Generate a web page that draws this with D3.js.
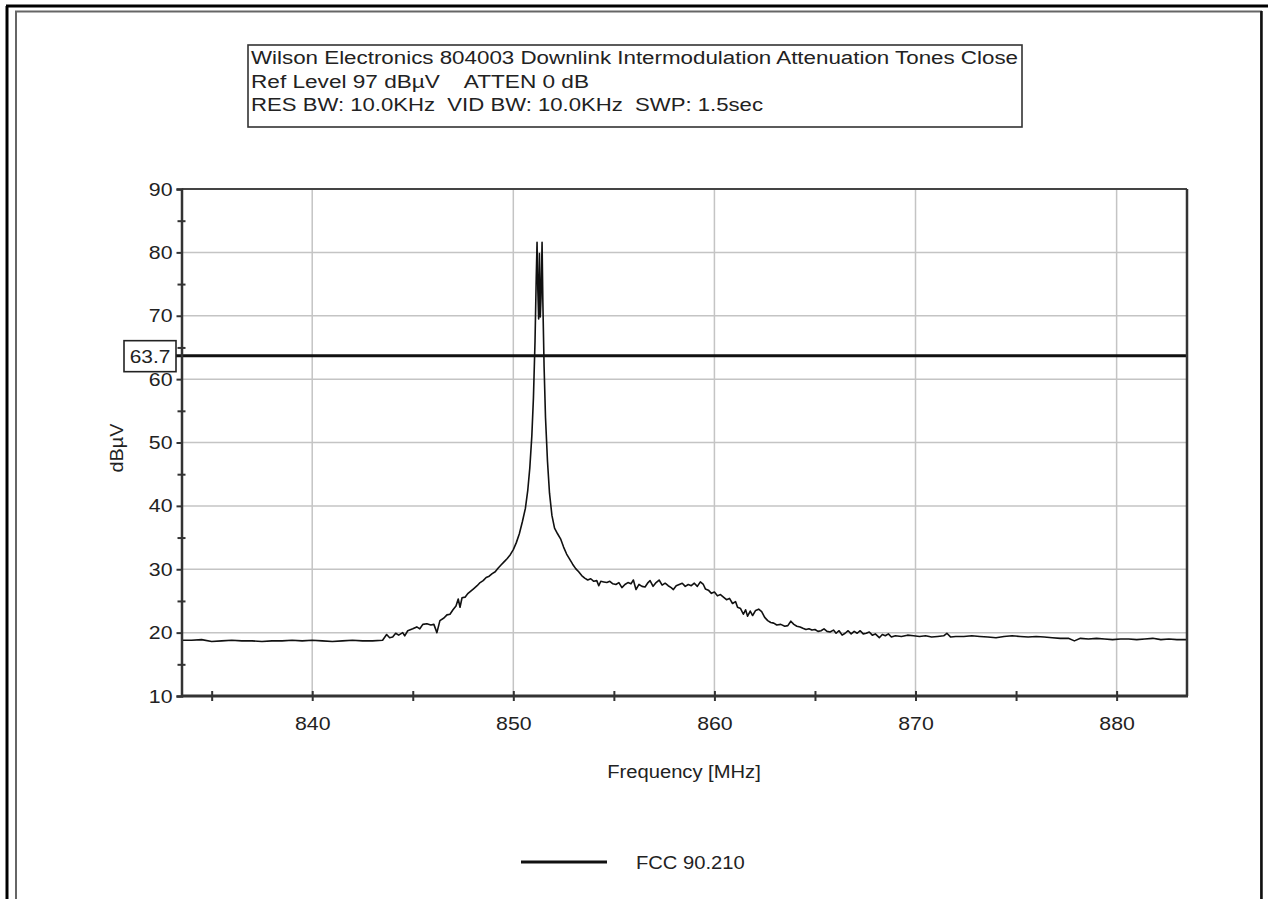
<!DOCTYPE html>
<html>
<head>
<meta charset="utf-8">
<script src="https://cdn.jsdelivr.net/npm/d3@7"></script>
<style>
  body { margin: 0; background: #fff; }
  svg { display: block; }
  text { font-family: "Liberation Sans", Arial, sans-serif; fill: #222; }
</style>
</head>
<body>
<svg width="1268" height="899"></svg>
<script>
// header text of the analyzer plot
const titleLines = [
  "Wilson Electronics 804003 Downlink Intermodulation Attenuation Tones Close",
  "Ref Level 97 dB\u00b5V    ATTEN 0 dB",
  "RES BW: 10.0KHz  VID BW: 10.0KHz  SWP: 1.5sec"
];
const xTicks = [835, 840, 845, 850, 855, 860, 865, 870, 875, 880];
const xLabels = [840, 850, 860, 870, 880];
const yLabels = [10, 20, 30, 40, 50, 60, 70, 80, 90];
const yMinor = [15, 25, 35, 45, 55, 65, 75, 85];
const limitValue = 63.7;
const legendName = "FCC 90.210";

// trace (MHz / dBuV)
const freqMHz = [
  833.5, 834.0, 834.5, 835.0, 835.5, 836.0, 836.5, 837.0, 837.5, 838.0,
  838.5, 839.0, 839.5, 840.0, 840.5, 841.0, 841.5, 842.0, 842.5, 843.0,
  843.5, 843.7, 843.85, 844.0, 844.15, 844.3, 844.5, 844.6, 844.75, 845.0,
  845.2, 845.35, 845.5, 845.7, 845.9, 846.05, 846.2, 846.35, 846.55, 846.7,
  846.85, 847.0, 847.15, 847.26, 847.35, 847.45, 847.6, 847.75, 847.9, 848.05,
  848.2, 848.35, 848.5, 848.65, 848.8, 848.95, 849.1, 849.25, 849.4, 849.55,
  849.7, 849.85, 850.0, 850.15, 850.3, 850.45, 850.6, 850.72, 850.82, 850.92,
  851.0, 851.08, 851.14, 851.18, 851.22, 851.26, 851.3, 851.34, 851.38, 851.43,
  851.47, 851.53, 851.6, 851.7, 851.8, 851.92, 852.05, 852.2, 852.35, 852.5,
  852.65, 852.8, 852.95, 853.1, 853.25, 853.4, 853.55, 853.7, 853.85, 854.0,
  854.15, 854.25, 854.35, 854.5, 854.65, 854.8, 854.95, 855.1, 855.25, 855.4,
  855.55, 855.7, 855.85, 855.97, 856.1, 856.25, 856.4, 856.55, 856.7, 856.8,
  856.95, 857.1, 857.25, 857.4, 857.55, 857.7, 857.85, 857.96, 858.1, 858.25,
  858.4, 858.55, 858.7, 858.85, 859.0, 859.15, 859.3, 859.45, 859.55, 859.7,
  859.85, 860.0, 860.15, 860.3, 860.45, 860.6, 860.75, 860.9, 861.05, 861.15,
  861.3, 861.44, 861.55, 861.65, 861.78, 861.9, 862.05, 862.2, 862.35, 862.5,
  862.65, 862.8, 862.95, 863.1, 863.3, 863.5, 863.65, 863.8, 863.95, 864.1,
  864.26, 864.4, 864.55, 864.7, 864.85, 865.0, 865.15, 865.3, 865.45, 865.6,
  865.75, 865.92, 866.05, 866.2, 866.35, 866.5, 866.65, 866.8, 866.95, 867.1,
  867.25, 867.4, 867.55, 867.7, 867.85, 868.0, 868.2, 868.35, 868.5, 868.65,
  868.8, 869.0, 869.3, 869.6, 869.9, 870.2, 870.5, 870.8, 871.1, 871.4,
  871.56, 871.75, 872.0, 872.4, 872.8, 873.2, 873.6, 874.0, 874.4, 874.8,
  875.2, 875.6, 876.0, 876.4, 876.8, 877.2, 877.6, 877.9, 878.2, 878.6,
  879.0, 879.4, 879.8, 880.2, 880.6, 881.0, 881.4, 881.8, 882.2, 882.6,
  883.0, 883.5
];
const levelDb = [
  18.8, 18.8, 18.9, 18.6, 18.7, 18.8, 18.7, 18.7, 18.6, 18.7,
  18.7, 18.8, 18.7, 18.8, 18.7, 18.6, 18.7, 18.8, 18.7, 18.7,
  18.8, 19.7, 19.2, 19.3, 19.9, 19.6, 20.0, 19.5, 20.3, 20.6,
  20.9, 20.6, 21.3, 21.4, 21.2, 21.3, 20.0, 21.9, 22.3, 22.8,
  22.9, 23.6, 24.2, 25.3, 24.0, 25.5, 25.6, 26.2, 26.6, 27.0,
  27.4, 27.9, 28.2, 28.7, 28.9, 29.3, 29.6, 30.2, 30.7, 31.2,
  31.7, 32.3, 33.1, 34.2, 35.6, 37.5, 39.6, 42.5, 46.0, 51.0,
  57.0, 66.0, 76.0, 81.6, 74.0, 69.5, 79.8, 69.8, 73.0, 81.6,
  72.0, 62.0, 54.0, 47.0, 42.0, 38.5, 36.5, 35.6, 34.8, 33.5,
  32.4, 31.6, 30.8, 30.1, 29.6, 29.0, 28.6, 28.3, 28.5, 28.1,
  28.2, 27.4, 28.1, 28.0, 27.9, 28.1, 27.7, 27.6, 27.9, 27.1,
  27.6, 27.9, 27.7, 28.3, 26.8, 27.6, 27.3, 27.2, 27.9, 28.2,
  27.3, 27.9, 28.3, 27.5, 27.8, 27.4, 27.1, 26.8, 27.4, 27.6,
  27.8, 27.3, 27.6, 27.4, 27.8, 27.3, 28.0, 27.6, 26.9, 26.7,
  26.2, 26.4, 25.8, 26.0, 25.6, 25.2, 25.4, 24.6, 24.9, 24.0,
  23.8, 22.9, 23.6, 22.6, 23.4, 22.7, 23.5, 23.7, 23.3, 22.4,
  21.9, 21.6, 21.5, 21.2, 21.3, 21.0, 21.1, 21.8, 21.3, 21.0,
  20.9, 20.7, 20.5, 20.6, 20.4, 20.5, 20.2, 20.3, 20.6, 20.2,
  20.1, 20.4, 19.9, 20.3, 19.6, 19.9, 20.3, 19.8, 20.2, 19.9,
  20.3, 19.8, 19.9, 20.1, 19.6, 19.8, 19.2, 19.7, 19.5, 19.8,
  19.3, 19.5, 19.4, 19.6, 19.5, 19.4, 19.5, 19.3, 19.4, 19.5,
  19.9, 19.3, 19.4, 19.4, 19.5, 19.4, 19.3, 19.2, 19.4, 19.5,
  19.4, 19.3, 19.4, 19.3, 19.2, 19.1, 19.1, 18.7, 19.1, 19.0,
  19.1, 19.0, 18.9, 19.0, 19.0, 18.9, 19.0, 19.1, 18.9, 19.0,
  18.9, 18.9
];

const svg = d3.select("svg");

// stretch text a bit wider, the original font looks broad
function widen(sel, f) {
  sel.each(function() {
    const len = this.getComputedTextLength();
    d3.select(this).attr("textLength", len * f).attr("lengthAdjust", "spacingAndGlyphs");
  });
}

// outer frames
svg.append("line").attr("x1", 6).attr("x2", 1268).attr("y1", 6).attr("y2", 6)
  .attr("stroke", "#000").attr("stroke-width", 3);
svg.append("line").attr("x1", 7).attr("x2", 7).attr("y1", 6).attr("y2", 899)
  .attr("stroke", "#000").attr("stroke-width", 3);
svg.append("rect").attr("x", 16).attr("y", 11.5).attr("width", 1245).attr("height", 900)
  .attr("fill", "none").attr("stroke", "#666").attr("stroke-width", 2);
svg.append("line").attr("x1", 1261.5).attr("x2", 1261.5).attr("y1", 11).attr("y2", 899)
  .attr("stroke", "#111").attr("stroke-width", 2.5);

// header box
svg.append("rect").attr("x", 248).attr("y", 45).attr("width", 774).attr("height", 82)
  .attr("fill", "#fff").attr("stroke", "#333").attr("stroke-width", 1.6);
const titleWidths = [767, 338, 512];
titleLines.forEach((t, i) => {
  svg.append("text").attr("x", 251).attr("y", 64 + i * 23.5)
    .attr("font-size", 18).style("white-space", "pre").text(t)
    .attr("textLength", titleWidths[i]).attr("lengthAdjust", "spacingAndGlyphs");
});

// plot area
const plotLeft = 181.5, plotRight = 1187, plotTop = 189, plotBottom = 696;
const x = d3.scaleLinear().domain([833.5, 883.5]).range([plotLeft, plotRight]);
const y = d3.scaleLinear().domain([10, 90]).range([plotBottom, plotTop]);

// grid
svg.append("g").selectAll("line").data(xLabels).join("line")
  .attr("x1", d => x(d)).attr("x2", d => x(d)).attr("y1", plotTop).attr("y2", plotBottom)
  .attr("stroke", "#c4c4c4").attr("stroke-width", 1.5);
svg.append("g").selectAll("line").data(yLabels.slice(1, -1)).join("line")
  .attr("x1", plotLeft).attr("x2", plotRight).attr("y1", d => y(d)).attr("y2", d => y(d))
  .attr("stroke", "#c4c4c4").attr("stroke-width", 1.5);

// trace
const line = d3.line().x((d, i) => x(freqMHz[i])).y(d => y(d));
svg.append("path").datum(levelDb).attr("d", line)
  .attr("fill", "none").attr("stroke", "#111").attr("stroke-width", 1.6)
  .attr("stroke-linejoin", "round");

// limit line
svg.append("line").attr("x1", 176).attr("x2", plotRight).attr("y1", y(limitValue)).attr("y2", y(limitValue))
  .attr("stroke", "#111").attr("stroke-width", 3);

// plot border (top, right)
svg.append("line").attr("x1", plotLeft).attr("x2", plotRight).attr("y1", plotTop).attr("y2", plotTop)
  .attr("stroke", "#444").attr("stroke-width", 2);
svg.append("line").attr("x1", plotRight).attr("x2", plotRight).attr("y1", plotTop).attr("y2", plotBottom)
  .attr("stroke", "#333").attr("stroke-width", 2.5);

// y axis
const yAxis = svg.append("g").attr("transform", `translate(${plotLeft},0)`)
  .call(d3.axisLeft(y).tickValues(yLabels).tickSize(5).tickPadding(4));
yAxis.select(".domain").attr("stroke", "#333").attr("stroke-width", 2.5);
yAxis.selectAll(".tick line").attr("stroke", "#333").attr("stroke-width", 2);
yAxis.selectAll(".tick text").attr("font-size", 19).attr("font-family", null).attr("fill", "#222")
  .call(widen, 1.12);
const yMinorAxis = svg.append("g").attr("transform", `translate(${plotLeft + 4},0)`)
  .call(d3.axisLeft(y).tickValues(yMinor).tickSize(8).tickFormat(""));
yMinorAxis.select(".domain").remove();
yMinorAxis.selectAll(".tick line").attr("stroke", "#333").attr("stroke-width", 2);

// x axis
const xAxis = svg.append("g").attr("transform", `translate(0,${plotBottom - 5})`)
  .call(d3.axisBottom(x).tickValues(xTicks).tickSize(10).tickFormat(""));
xAxis.select(".domain").remove();
xAxis.selectAll(".tick line").attr("stroke", "#333").attr("stroke-width", 2);
svg.append("line").attr("x1", plotLeft).attr("x2", plotRight + 1).attr("y1", plotBottom).attr("y2", plotBottom)
  .attr("stroke", "#333").attr("stroke-width", 3);
const xLab = svg.append("g").attr("transform", `translate(0,${plotBottom})`)
  .call(d3.axisBottom(x).tickValues(xLabels).tickSize(0).tickPadding(21));
xLab.select(".domain").remove();
xLab.selectAll(".tick text").attr("font-size", 19).attr("font-family", null).attr("fill", "#222")
  .call(widen, 1.12);

// value box on the y axis
const vy = y(limitValue);
svg.append("rect").attr("x", 124).attr("y", vy - 15).attr("width", 52).attr("height", 31)
  .attr("fill", "#fff").attr("stroke", "#222").attr("stroke-width", 1.6);
svg.append("text").attr("x", 150).attr("y", vy + 7).attr("text-anchor", "middle")
  .attr("font-size", 19).text(limitValue).call(widen, 1.1);

// axis titles
svg.append("text").attr("transform", "translate(123,448) rotate(-90)")
  .attr("text-anchor", "middle").attr("font-size", 18).text("dB\u00b5V").call(widen, 1.1);
svg.append("text").attr("x", 684).attr("y", 778).attr("text-anchor", "middle")
  .attr("font-size", 18).text("Frequency [MHz]").call(widen, 1.12);

// legend
svg.append("line").attr("x1", 521).attr("x2", 607).attr("y1", 862).attr("y2", 862)
  .attr("stroke", "#111").attr("stroke-width", 3);
svg.append("text").attr("x", 636).attr("y", 869).attr("font-size", 18).text(legendName)
  .call(widen, 1.12);
</script>
</body>
</html>
